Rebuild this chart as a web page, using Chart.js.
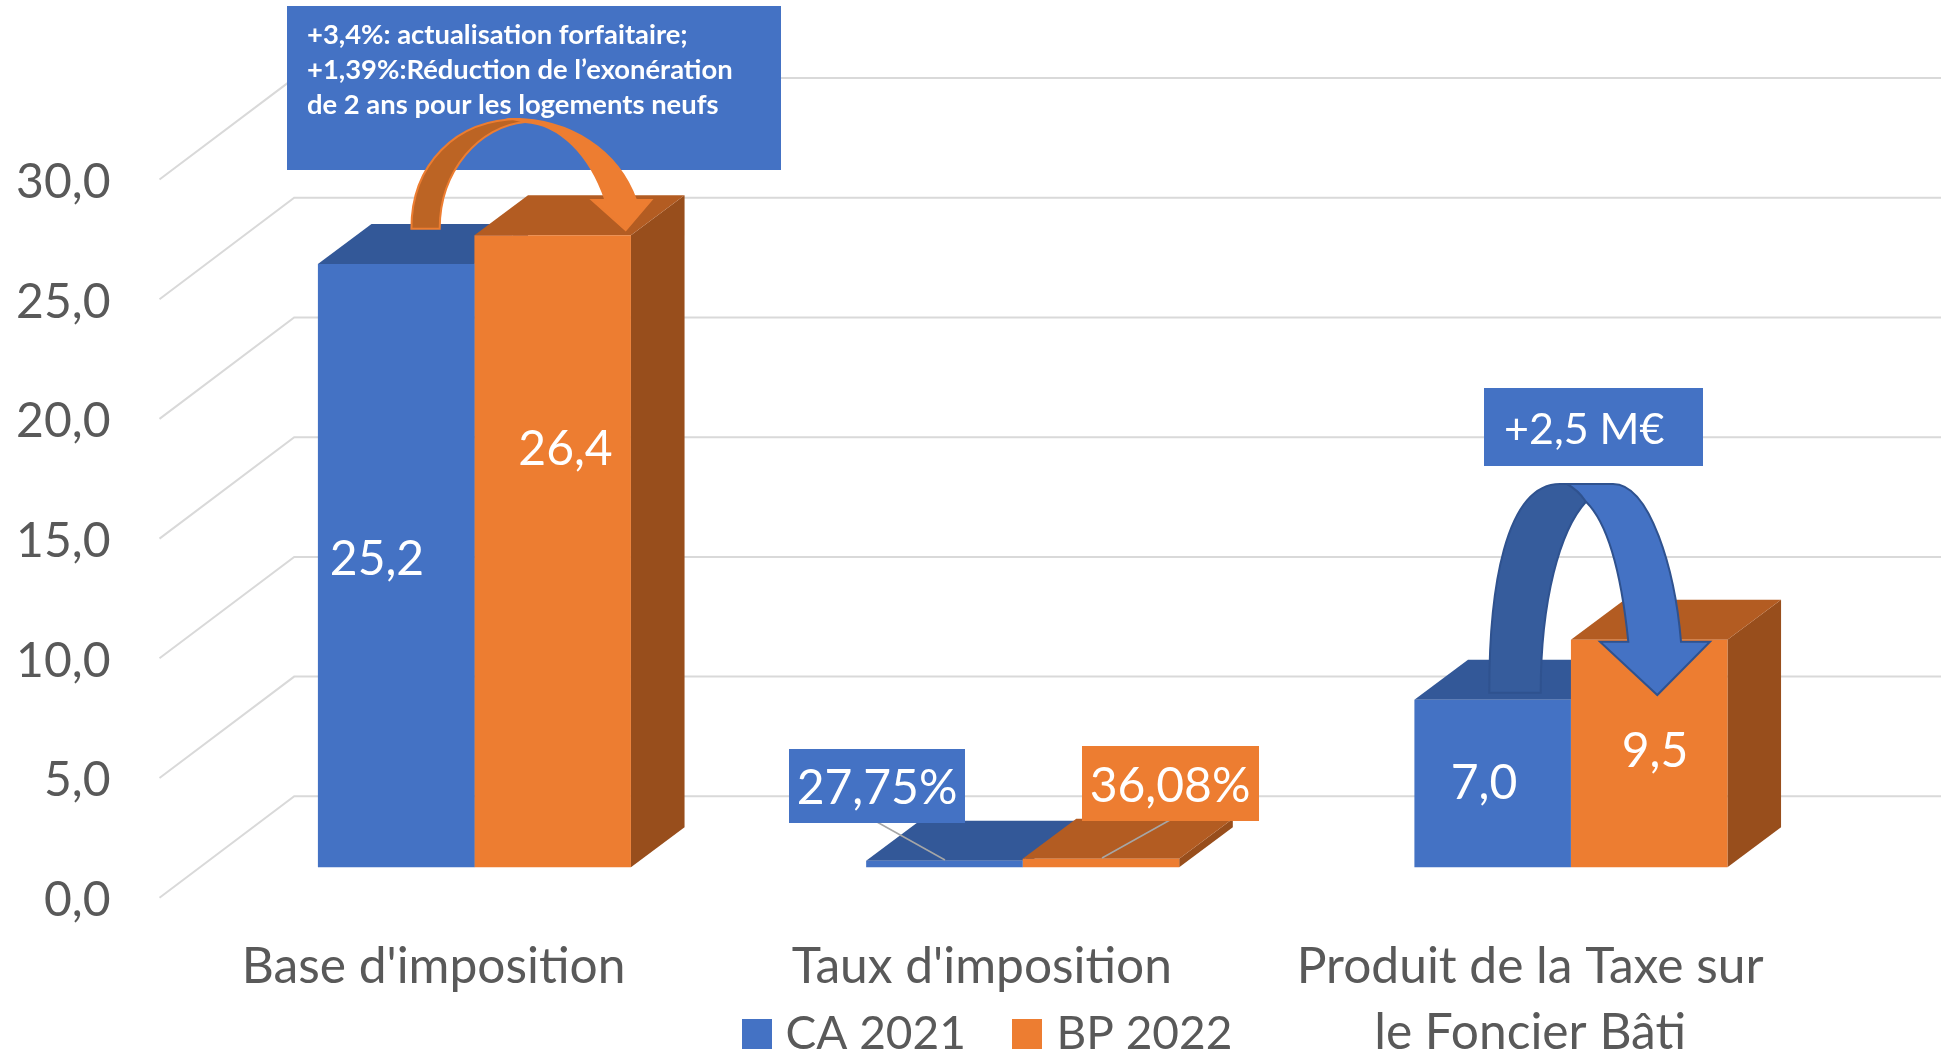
<!DOCTYPE html>
<html lang="fr">
<head>
<meta charset="utf-8">
<title>Taxe sur le Foncier Bâti</title>
<style>
html,body{margin:0;padding:0;background:#fff;overflow:hidden}
#wrap{width:1945px;height:1054px;position:relative}
</style>
<script src="https://cdn.jsdelivr.net/npm/chart.js@4"></script>
</head>
<body>
<div id="wrap"><canvas id="c" width="1945" height="1054"></canvas></div>
<script>
const categories = ["Base d'imposition", "Taux d'imposition", ["Produit de la Taxe sur", "le Foncier Bâti"]];
const seriesNames = ["CA 2021", "BP 2022"];
const ca2021 = [25.2, 0.2775, 7.0];
const bp2022 = [26.4, 0.3608, 9.5];
const caLabels = ["25,2", "27,75%", "7,0"];
const bpLabels = ["26,4", "36,08%", "9,5"];
const yTickLabels = ["0,0", "5,0", "10,0", "15,0", "20,0", "25,0", "30,0"];
const note1Lines = ["+3,4%: actualisation forfaitaire;", "+1,39%:Réduction de l’exonération", "de 2 ans pour les logements neufs"];
const note2Text = "+2,5 M€";

const FONT = 'Lato, Carlito, "Open Sans", sans-serif';
const BLUE = '#4472c4', ORANGE = '#ed7d31';
const BLUE_TOP = '#335898', ORANGE_TOP = '#b35c22', BLUE_SIDE = '#2a4a80', ORANGE_SIDE = '#984e1c';
const GRID = '#d9d9d9', TEXT = '#595959';

/* oblique projection of the 3D chart */
const BAR_DX = 40.8, BAR_DY = -30.4;    /* floor front edge -> bar front plane */
const DEPTH_DX = 53.6, DEPTH_DY = -40;  /* bar depth */
const WALL_DX = 134.7, WALL_DY = -101.4; /* floor front edge -> back wall */
const WALL_RIGHT = 1941;

function poly(ctx, pts, fill) {
  ctx.beginPath();
  pts.forEach((p, i) => i ? ctx.lineTo(p[0], p[1]) : ctx.moveTo(p[0], p[1]));
  ctx.closePath();
  ctx.fillStyle = fill;
  ctx.fill();
}

const chart3d = {
  id: 'chart3d',
  beforeDatasetsDraw(chart) {
    const ctx = chart.ctx, y = chart.scales.y, L = chart.chartArea.left;
    /* floor + wall gridlines, from the axis' own ticks */
    ctx.save();
    ctx.strokeStyle = GRID;
    ctx.lineWidth = 2;
    ctx.lineJoin = 'miter';
    y.ticks.forEach(t => {
      const py = y.getPixelForValue(t.value);
      ctx.beginPath();
      ctx.moveTo(L, py);
      ctx.lineTo(L + WALL_DX, py + WALL_DY);
      ctx.lineTo(WALL_RIGHT, py + WALL_DY);
      ctx.stroke();
    });
    ctx.restore();

    /* the bars live on a plane shifted into the depth of the floor */
    ctx.save();
    ctx.translate(BAR_DX, BAR_DY);
    [[0, BLUE_TOP, BLUE_SIDE], [1, ORANGE_TOP, ORANGE_SIDE]].forEach(([ds, top, side]) => {
      chart.getDatasetMeta(ds).data.forEach(b => {
        const l = b.x - b.width / 2, r = b.x + b.width / 2;
        poly(ctx, [[r, b.y], [r + DEPTH_DX, b.y + DEPTH_DY], [r + DEPTH_DX, b.base + DEPTH_DY], [r, b.base]], side);
        poly(ctx, [[l, b.y], [l + DEPTH_DX, b.y + DEPTH_DY], [r + DEPTH_DX, b.y + DEPTH_DY], [r, b.y]], top);
      });
    });
  },
  afterDatasetsDraw(chart) {
    chart.ctx.restore();
  },
  afterDraw(chart) {
    const ctx = chart.ctx;
    ctx.save();
    ctx.textBaseline = 'middle';
    ctx.textAlign = 'center';

    /* leader lines of the two rate labels */
    ctx.strokeStyle = '#a6a6a6';
    ctx.lineWidth = 1.5;
    [[877, 822, 945, 860], [1170, 820, 1102, 858]].forEach(s => {
      ctx.beginPath(); ctx.moveTo(s[0], s[1]); ctx.lineTo(s[2], s[3]); ctx.stroke();
    });

    /* boxes */
    ctx.fillStyle = BLUE;
    ctx.fillRect(789, 749, 176, 74);
    ctx.fillRect(287, 6, 494, 164);
    ctx.fillRect(1484, 388, 219, 78);
    ctx.fillStyle = ORANGE;
    ctx.fillRect(1082, 746, 177, 75);

    /* value labels */
    ctx.fillStyle = '#fff';
    ctx.font = '48px ' + FONT;
    const caPos = [[377, 560], [877, 789], [1484, 784]];
    const bpPos = [[565.5, 450], [1170, 787], [1655, 752]];
    caLabels.forEach((s, i) => ctx.fillText(s, caPos[i][0], caPos[i][1]));
    bpLabels.forEach((s, i) => ctx.fillText(s, bpPos[i][0], bpPos[i][1]));

    /* annotation texts */
    ctx.textAlign = 'left';
    ctx.font = 'bold 27.4px ' + FONT;
    note1Lines.forEach((s, i) => ctx.fillText(s, 307, 35.5 + i * 35));
    ctx.font = '43px ' + FONT;
    ctx.fillText(note2Text, 1504, 430);

    /* orange curved arrow */
    ctx.lineWidth = 2;
    ctx.strokeStyle = ORANGE;
    ctx.fillStyle = '#bc6424';
    ctx.beginPath();
    ctx.moveTo(411.4, 228.7);
    ctx.bezierCurveTo(411.4, 165, 455, 119, 520, 119);
    ctx.lineTo(525, 122);
    ctx.bezierCurveTo(480, 126, 439.7, 170, 439.7, 228.7);
    ctx.closePath();
    ctx.fill(); ctx.stroke();
    ctx.fillStyle = ORANGE;
    ctx.beginPath();
    ctx.moveTo(513, 119);
    ctx.bezierCurveTo(570, 119, 618, 150, 636, 200);
    ctx.lineTo(651.3, 200);
    ctx.lineTo(625.7, 230);
    ctx.lineTo(592, 200);
    ctx.lineTo(605.4, 200);
    ctx.bezierCurveTo(590, 155, 560, 124, 525, 122);
    ctx.closePath();
    ctx.fill(); ctx.stroke();

    /* blue curved arrow */
    ctx.strokeStyle = '#2f528f';
    ctx.fillStyle = '#365c9c';
    ctx.beginPath();
    ctx.moveTo(1489.3, 692.7);
    ctx.bezierCurveTo(1489, 590, 1505, 484, 1560, 484);
    ctx.lineTo(1575, 484);
    ctx.lineTo(1586, 501.7);
    ctx.bezierCurveTo(1560, 530, 1540.7, 600, 1540.7, 692.7);
    ctx.closePath();
    ctx.fill(); ctx.stroke();
    ctx.fillStyle = BLUE;
    ctx.beginPath();
    ctx.moveTo(1567, 484);
    ctx.lineTo(1613, 484);
    ctx.bezierCurveTo(1650, 484, 1675, 570, 1681, 641.7);
    ctx.lineTo(1710, 641.7);
    ctx.lineTo(1657.3, 695);
    ctx.lineTo(1600, 641.7);
    ctx.lineTo(1628.3, 641.7);
    ctx.bezierCurveTo(1622, 580, 1610, 525, 1586, 501.7);
    ctx.quadraticCurveTo(1578, 490, 1567, 484);
    ctx.closePath();
    ctx.fill(); ctx.stroke();

    /* legend */
    const legendItems = [[742, 785.5, BLUE], [1012, 1056.5, ORANGE]];
    ctx.textAlign = 'left';
    ctx.font = '46px ' + FONT;
    legendItems.forEach((it, i) => {
      ctx.fillStyle = it[2];
      ctx.fillRect(it[0], 1019, 30, 30);
      ctx.fillStyle = TEXT;
      ctx.fillText(seriesNames[i], it[1], 1034);
    });
    ctx.restore();
  }
};

new Chart(document.getElementById('c'), {
  type: 'bar',
  data: {
    labels: categories,
    datasets: [
      { label: seriesNames[0], data: ca2021, backgroundColor: BLUE, borderWidth: 0, clip: false },
      { label: seriesNames[1], data: bp2022, backgroundColor: ORANGE, borderWidth: 0, clip: false }
    ]
  },
  plugins: [chart3d],
  options: {
    responsive: false,
    animation: false,
    events: [],
    layout: { padding: { top: 179.5, right: 140.75, bottom: 0, left: 0 } },
    datasets: { bar: { categoryPercentage: 0.571, barPercentage: 1 } },
    plugins: { legend: { display: false }, tooltip: { enabled: false } },
    scales: {
      x: {
        offset: true,
        grid: { display: false, drawTicks: false },
        border: { display: false },
        ticks: {
          color: TEXT, padding: 36, maxRotation: 0, minRotation: 0, autoSkip: false,
          font: { family: FONT, size: 49.7, lineHeight: 1.33 }
        },
        afterFit(s) { s.height = 156.3; }
      },
      y: {
        min: 0, max: 30,
        grid: { display: false, drawTicks: false },
        border: { display: false },
        ticks: {
          stepSize: 5, color: TEXT, padding: 49, labelOffset: 3,
          font: { family: FONT, size: 48 },
          callback(v) { return yTickLabels[Math.round(v / 5)]; }
        },
        afterFit(s) { s.width = 159.5; }
      }
    }
  }
});
</script>
</body>
</html>
